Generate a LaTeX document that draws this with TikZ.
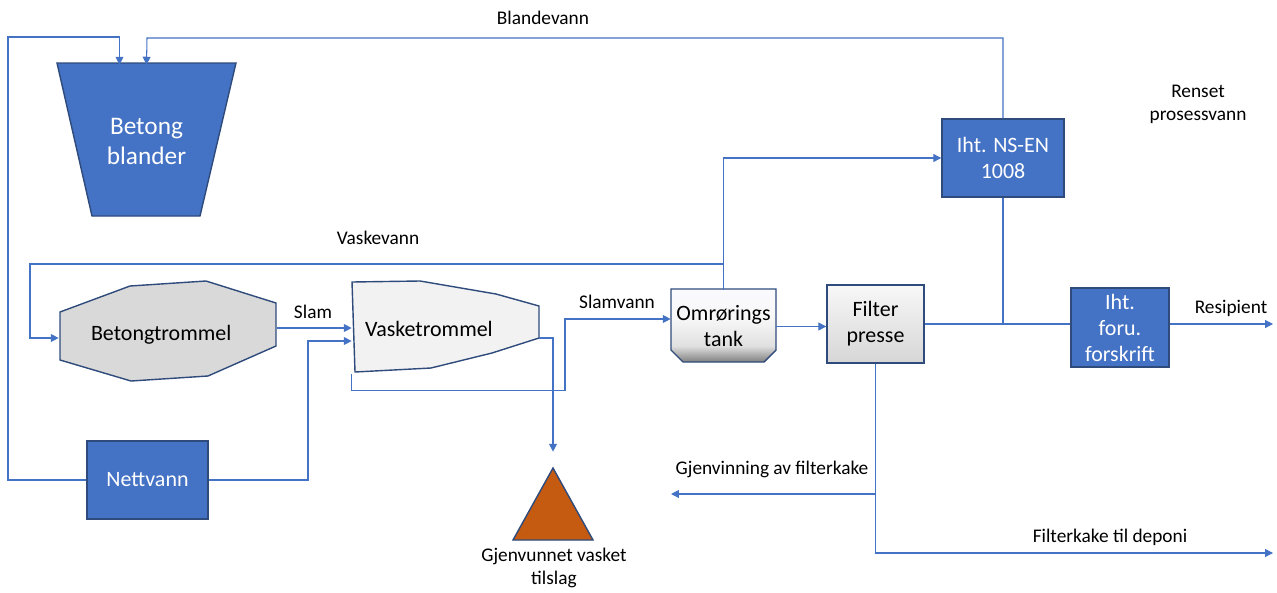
\documentclass[tikz,border=0pt]{standalone}
\usepackage{fontspec}
\setmainfont{Carlito}
\usepackage{tikz}
\usepackage{xcolor}
\usetikzlibrary{arrows.meta}
\definecolor{flowblue}{HTML}{4472C4}
\definecolor{edgenavy}{HTML}{2F4B7C}
\definecolor{drumgray}{HTML}{D9D9D9}
\definecolor{washgray}{HTML}{F2F2F2}
\definecolor{gravel}{HTML}{C55A11}
\pgfdeclareverticalshading{tankshade}{100bp}{color(0bp)=(black!50); color(25bp)=(black!50); color(36bp)=(black!12); color(55bp)=(black!3); color(75bp)=(blue!2); color(100bp)=(blue!2)}

\begin{document}
\begin{tikzpicture}[x=0.02cm, y=-0.02cm,
    flow/.style={draw=flowblue, line width=0.6pt},
    arr/.style={flow, -{Triangle[length=4.5pt, width=4.5pt]}},
    outline/.style={draw=edgenavy, line width=0.8pt},
    shapetext/.style={inner sep=0pt, align=center, font=\fontsize{12.5}{14.8}\selectfont},
    bluebox/.style={shapetext, outline, fill=flowblue, text=white},
    greybox/.style={shapetext, outline, top color=black!3, bottom color=black!16},
    lbl/.style={align=center, font=\fontsize{11}{13}\selectfont}]
  \useasboundingbox (0,0) rectangle (1277,592);

  \filldraw[outline, fill=flowblue] (57,63) -- (236,63) -- (200,216) -- (92,216) -- cycle;
  \filldraw[outline, fill=drumgray] (60,312) -- (130,286) -- (206,281) -- (276,303) -- (276,346) -- (208,376) -- (131,381) -- (60,360) -- cycle;
  \filldraw[outline, fill=washgray] (352,282) -- (420,281) -- (496,294) -- (539,306) -- (539,338) -- (492,353) -- (431,368) -- (355,372) -- cycle;
  \path[outline, shading=tankshade] (671,289) -- (776,289) -- (776,350) -- (764,362) -- (683,362) -- (671,350) -- cycle;
  \filldraw[outline, fill=gravel] (553,468) -- (593,540) -- (513,540) -- cycle;

  \node (M) [shapetext, text=white, font=\fontsize{14.4}{16.8}\selectfont, minimum width=3.58cm, minimum height=3.06cm] at (146.5,141.5) {Betong\\blander};
  \node (B) [shapetext, align=left, text width=3.08cm, inner xsep=0.64cm, minimum height=2cm] at (168,335) {Betongtrommel};
  \node (V) [shapetext, align=left, text width=3.22cm, inner xsep=0.26cm, minimum height=1.82cm] at (445.5,328.5) {Vasketrommel};
  \node (O) [shapetext, minimum width=2.1cm, minimum height=1.46cm] at (723.5,326.5) {Omrørings\\tank};
  \node (F) [greybox, minimum width=1.94cm, minimum height=1.56cm] at (875.5,324) {Filter\\presse};
  \node (I) [bluebox, minimum width=2.44cm, minimum height=1.56cm] at (1003,158) {Iht. NS-EN\\1008};
  \node (R) [bluebox, minimum width=1.96cm, minimum height=1.58cm] at (1120,327.5) {Iht.\\foru.\\forskrift};
  \node (N) [bluebox, minimum width=2.42cm, minimum height=1.56cm] at (147.5,480) {Nettvann};
  \node (G) [inner sep=0pt, minimum width=1.6cm, minimum height=1.44cm] at (553,504) {};
  \node (Gl) [lbl] at (554,568) {Gjenvunnet vasket\\tilslag};

  \node (Lbv) [lbl] at (543,18) {Blandevann};
  \node (Lvv) [lbl] at (378,238) {Vaskevann};
  \node (Ls) [lbl] at (313,312) {Slam};
  \node (Lsv) [lbl] at (617,302) {Slamvann};
  \node (Lrp) [lbl] at (1198,104) {Renset\\prosessvann};
  \node (Lres) [lbl] at (1231,308) {Resipient};
  \node (Lgf) [lbl] at (772,469) {Gjenvinning av filterkake};
  \node (Ldep) [lbl] at (1110,537) {Filterkake til deponi};

  \coordinate (Rout) at (1273,324);
  \coordinate (Dep) at (1273,553);
  \coordinate (Gjv) at (671,494);

  \draw[arr] (I.north) |- (147,38) -- (M.north);
  \draw[arr] (N.west) -| (8,37) -| ([xshift=-0.54cm]M.north);
  \draw[arr] (O.north) |- (30,264) |- ([yshift=-0.06cm]B.west);
  \draw[arr] (O.north) |- (I.west);
  \draw[arr] ([yshift=0.14cm]B.east) -- ([yshift=0.14cm]B.east -| V.west);
  \draw[arr] (N.east) -| (308,341) -- (V.west |- 308,341);
  \draw[arr] (V.south west) -- ++(0,16) -| (565,319) -- (O.west |- 565,319);
  \draw[arr] ([yshift=-0.19cm]V.east) -| ([yshift=0.32cm]G.north);
  \draw[arr] (O.east) -- (O.east -| F.west);
  \draw[flow] (F.east) -- (F.east -| R.west);
  \draw[flow] (I.south) -- (I.south |- F.east);
  \draw[arr] (F.east -| R.east) -- (Rout);
  \draw[arr] (F.south) |- (Dep);
  \draw[arr] (F.south |- Gjv) -- (Gjv);
\end{tikzpicture}
\end{document}
